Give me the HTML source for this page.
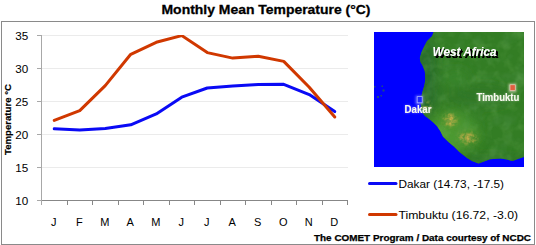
<!DOCTYPE html>
<html><head><meta charset="utf-8">
<style>
html,body{margin:0;padding:0;background:#fff;}
body{width:536px;height:245px;overflow:hidden;position:relative;}
svg{position:absolute;left:0;top:0;}
text{font-family:"Liberation Sans",sans-serif;}
</style></head><body>
<svg width="536" height="245" viewBox="0 0 536 245">
<defs>
  <linearGradient id="land" x1="0" y1="0" x2="0.3" y2="1">
    <stop offset="0" stop-color="#2f7a24"/>
    <stop offset="0.5" stop-color="#3a8a2a"/>
    <stop offset="1" stop-color="#47982f"/>
  </linearGradient>
  <filter id="sh" x="-20%" y="-20%" width="140%" height="160%">
    <feGaussianBlur in="SourceAlpha" stdDeviation="0.5"/>
    <feOffset dx="1.5" dy="1.6" result="o"/>
    <feComponentTransfer in="o" result="o2"><feFuncA type="linear" slope="1.6"/></feComponentTransfer>
    <feMerge><feMergeNode in="o2"/><feMergeNode in="SourceGraphic"/></feMerge>
  </filter>
  <filter id="blur1" x="-100%" y="-100%" width="300%" height="300%"><feGaussianBlur stdDeviation="1"/></filter>
  <filter id="blur2" x="-100%" y="-100%" width="300%" height="300%"><feGaussianBlur stdDeviation="2"/></filter>
  <filter id="speck" x="-50%" y="-50%" width="200%" height="200%">
    <feGaussianBlur in="SourceGraphic" stdDeviation="2.5" result="b"/>
    <feTurbulence type="fractalNoise" baseFrequency="0.3" numOctaves="2" seed="11" result="n"/>
    <feColorMatrix in="n" type="matrix" values="0 0 0 0 0  0 0 0 0 0  0 0 0 0 0  0 0 0 3 -1.1" result="na"/>
    <feGaussianBlur in="na" stdDeviation="0.6" result="nb"/>
    <feComposite in="b" in2="nb" operator="in"/>
  </filter>
  <filter id="halo" x="-20%" y="-50%" width="140%" height="200%">
    <feGaussianBlur in="SourceAlpha" stdDeviation="0.8" result="b"/>
    <feFlood flood-color="#ffffff" flood-opacity="0.35"/>
    <feComposite in2="b" operator="in" result="h"/>
    <feMerge><feMergeNode in="h"/><feMergeNode in="SourceGraphic"/></feMerge>
  </filter>
  <filter id="terrain" x="0" y="0" width="100%" height="100%" filterUnits="objectBoundingBox">
    <feTurbulence type="fractalNoise" baseFrequency="0.08" numOctaves="3" seed="4" result="n"/>
    <feColorMatrix in="n" type="matrix" values="0 0 0 0 0.30  0 0 0 0 0.62  0 0 0 0 0.20  1.6 0 0 0 -0.75" result="c"/>
    <feComposite in="c" in2="SourceGraphic" operator="in"/>
  </filter>
  <filter id="terrain2" x="0" y="0" width="100%" height="100%" filterUnits="objectBoundingBox">
    <feTurbulence type="fractalNoise" baseFrequency="0.07" numOctaves="3" seed="9" result="n"/>
    <feColorMatrix in="n" type="matrix" values="0 0 0 0 0.14  0 0 0 0 0.38  0 0 0 0 0.16  1.6 0 0 0 -0.75" result="c"/>
    <feComposite in="c" in2="SourceGraphic" operator="in"/>
  </filter>
  <filter id="blur6" x="-100%" y="-100%" width="300%" height="300%"><feGaussianBlur stdDeviation="6"/></filter>
</defs>
<!-- title -->
<text x="266" y="14.4" font-size="13.7" font-weight="bold" text-anchor="middle" fill="#000" stroke="#000" stroke-width="0.3" textLength="209" lengthAdjust="spacingAndGlyphs">Monthly Mean Temperature (°C)</text>
<!-- frame -->
<rect x="1.5" y="21.5" width="533" height="223" fill="none" stroke="#8a8a8a" stroke-width="1"/>
<!-- gridlines -->
<g stroke="#ebebeb" stroke-width="1">
  <line x1="42" y1="35.5" x2="348" y2="35.5"/>
  <line x1="42" y1="68.5" x2="348" y2="68.5"/>
  <line x1="42" y1="101.5" x2="348" y2="101.5"/>
  <line x1="42" y1="134.5" x2="348" y2="134.5"/>
  <line x1="42" y1="167.5" x2="348" y2="167.5"/>
</g>
<!-- y axis -->
<g stroke="#a8a8a8" stroke-width="1">
  <line x1="41.5" y1="35" x2="41.5" y2="205"/>
  <line x1="37" y1="35.5" x2="41" y2="35.5"/>
  <line x1="37" y1="68.5" x2="41" y2="68.5"/>
  <line x1="37" y1="101.5" x2="41" y2="101.5"/>
  <line x1="37" y1="134.5" x2="41" y2="134.5"/>
  <line x1="37" y1="167.5" x2="41" y2="167.5"/>
  <line x1="37" y1="200.5" x2="41" y2="200.5"/>
</g>
<!-- x axis -->
<g stroke="#878787" stroke-width="1">
  <line x1="42" y1="200.5" x2="348" y2="200.5"/>
  <line x1="67.5" y1="200" x2="67.5" y2="205"/>
  <line x1="92.5" y1="200" x2="92.5" y2="205"/>
  <line x1="118.5" y1="200" x2="118.5" y2="205"/>
  <line x1="143.5" y1="200" x2="143.5" y2="205"/>
  <line x1="169.5" y1="200" x2="169.5" y2="205"/>
  <line x1="194.5" y1="200" x2="194.5" y2="205"/>
  <line x1="220.5" y1="200" x2="220.5" y2="205"/>
  <line x1="245.5" y1="200" x2="245.5" y2="205"/>
  <line x1="271.5" y1="200" x2="271.5" y2="205"/>
  <line x1="296.5" y1="200" x2="296.5" y2="205"/>
  <line x1="322.5" y1="200" x2="322.5" y2="205"/>
  <line x1="347.5" y1="200" x2="347.5" y2="205"/>
</g>
<!-- y labels -->
<g font-size="11" fill="#000" text-anchor="end">
  <text x="28.2" y="40" textLength="13" lengthAdjust="spacingAndGlyphs">35</text>
  <text x="28.2" y="73" textLength="13" lengthAdjust="spacingAndGlyphs">30</text>
  <text x="28.2" y="106" textLength="13" lengthAdjust="spacingAndGlyphs">25</text>
  <text x="28.2" y="139" textLength="13" lengthAdjust="spacingAndGlyphs">20</text>
  <text x="28.2" y="172" textLength="13" lengthAdjust="spacingAndGlyphs">15</text>
  <text x="28.2" y="205" textLength="13" lengthAdjust="spacingAndGlyphs">10</text>
</g>
<!-- y title -->
<text transform="translate(11.2,119.5) rotate(-90)" font-size="9.8" font-weight="bold" stroke="#000" stroke-width="0.2" text-anchor="middle" fill="#000" textLength="71" lengthAdjust="spacingAndGlyphs">Temperature °C</text>
<!-- x labels -->
<g font-size="11" fill="#000" text-anchor="middle">
  <text x="53.75" y="226">J</text>
  <text x="79.25" y="226">F</text>
  <text x="104.75" y="226">M</text>
  <text x="130.25" y="226">A</text>
  <text x="155.75" y="226">M</text>
  <text x="181.25" y="226">J</text>
  <text x="206.75" y="226">J</text>
  <text x="232.25" y="226">A</text>
  <text x="257.75" y="226">S</text>
  <text x="283.25" y="226">O</text>
  <text x="308.75" y="226">N</text>
  <text x="334.25" y="226">D</text>
</g>
<!-- data lines -->
<clipPath id="plotclip"><rect x="0" y="35" width="360" height="180"/></clipPath>
<g clip-path="url(#plotclip)">
<polyline fill="none" stroke="#0a0af5" stroke-width="3" stroke-linejoin="round" stroke-linecap="round"
  points="54.25,128.8 79.75,129.9 105.25,128.5 130.75,124.8 156.25,113.9 181.75,97.2 207.25,88 232.75,85.9 258.25,84.6 283.75,84.3 309.25,94.6 334.75,111.6"/>
<polyline fill="none" stroke="#d03800" stroke-width="3" stroke-linejoin="round" stroke-linecap="round"
  points="54.25,120.4 79.75,110.6 105.25,85.6 130.75,54.3 156.25,42.3 181.75,35.6 207.25,52.6 232.75,58.1 258.25,56.2 283.75,61.4 309.25,87.2 334.75,117"/>
</g>
<!-- map -->
<g>
  <rect x="374" y="32" width="150" height="135" fill="#0000ff"/>
  <clipPath id="landclip"><path id="landpath" d="M433.5,32 L432,36 L427,41 L424.4,46 L421.6,52 L419.8,58 L420.5,62 L422.6,65.5 L424.8,71 L425.4,79 L424.5,85 L422.6,91.5 L421.5,96 L420.5,99 L420.8,103 L421,107 L421.8,112 L425,116 L428.8,118.8 L433.3,122.4 L436.9,126 L440.4,131.3 L443.1,136.7 L448.5,142.1 L453.9,146.6 L459.3,152 L467,158 L472,161 L478.5,163.5 L484,161.5 L490,159.3 L500.6,158.4 L507,159.5 L512.5,161.1 L518,159 L524,157 L524,32 Z"/></clipPath>
  <g clip-path="url(#landclip)">
    <rect x="374" y="32" width="150" height="135" fill="#337d24"/>
    <g filter="url(#blur6)">
      <ellipse cx="426" cy="80" rx="10" ry="40" fill="#266a2c"/>
      <ellipse cx="436" cy="140" rx="14" ry="16" fill="#2c7028"/>
      <ellipse cx="490" cy="165" rx="40" ry="8" fill="#2c7028"/>
      <ellipse cx="455" cy="78" rx="14" ry="8" fill="#3c8a2c" opacity="0.7"/>
      <ellipse cx="440" cy="120" rx="9" ry="7" fill="#4c9630" opacity="0.8"/>
      <ellipse cx="458" cy="128" rx="20" ry="16" fill="#459230"/>
      <ellipse cx="447" cy="137" rx="22" ry="9" fill="#4e9c32" transform="rotate(40 447 137)"/>
      <ellipse cx="478" cy="96" rx="36" ry="10" fill="#2e7626" opacity="0.8"/>
    </g>
    <rect x="374" y="32" width="150" height="135" filter="url(#terrain)" opacity="0.3"/>
    <rect x="374" y="32" width="150" height="135" filter="url(#terrain2)" opacity="0.3"/>
    <g filter="url(#blur6)" opacity="0.8">
      <ellipse cx="452" cy="121" rx="10" ry="9" fill="#529a2e"/>
      <ellipse cx="468" cy="137" rx="11" ry="8" fill="#529a2e"/>
    </g>
    <g filter="url(#blur2)" opacity="0.55">
      <ellipse cx="450" cy="121" rx="4" ry="4" fill="#b8a850"/>
      <ellipse cx="468" cy="138" rx="5" ry="3" fill="#a8a048"/>
    </g>
    <g filter="url(#speck)">
      <ellipse cx="450" cy="120" rx="6" ry="6" fill="#d0b448"/>
      <ellipse cx="468" cy="138" rx="9" ry="5.5" fill="#c0ac48"/>
      <ellipse cx="426" cy="107" rx="4" ry="6" fill="#98a840"/>
    </g>
  </g>
  <g fill="#2c6a50" opacity="0.7">
    <rect x="374" y="86" width="1.5" height="1.5"/>
    <rect x="381.5" y="85.5" width="1.5" height="1.5"/>
    <rect x="382.5" y="89.5" width="2" height="2"/>
    <rect x="377" y="96" width="2" height="2"/>
    <rect x="380.5" y="95" width="1.5" height="1.5"/>
  </g>
  <!-- markers -->
  <rect x="415.5" y="95.5" width="8" height="9" fill="#b0b8ff" opacity="0.5" filter="url(#blur1)"/>
  <rect x="417.2" y="96.6" width="5" height="6.2" fill="#2028ff" stroke="#a8b0ff" stroke-width="0.8"/>
  <rect x="508.5" y="83.5" width="8" height="9" fill="#f0e8d0" opacity="0.6" filter="url(#blur1)"/>
  <rect x="510" y="84.8" width="5.2" height="5.8" fill="#e06040" stroke="#f0d8c8" stroke-width="0.6"/>
  <!-- labels -->
  <text x="432.6" y="55.8" font-size="13" font-style="italic" font-weight="bold" fill="#fff" filter="url(#sh)" textLength="64" lengthAdjust="spacingAndGlyphs">West Africa</text>
  <g fill="#fafaf0" font-weight="bold" stroke="#fafaf0" stroke-width="0.1" filter="url(#halo)">
    <text x="404.5" y="113" font-size="10.2" textLength="27" lengthAdjust="spacingAndGlyphs">Dakar</text>
    <text x="476.5" y="101.1" font-size="10" textLength="42.8" lengthAdjust="spacingAndGlyphs">Timbuktu</text>
  </g>
</g>
<!-- legend -->
<line x1="369.5" y1="183.5" x2="396" y2="183.5" stroke="#0a0af5" stroke-width="3" stroke-linecap="round"/>
<line x1="369.5" y1="214.5" x2="396" y2="214.5" stroke="#d03800" stroke-width="3" stroke-linecap="round"/>
<text x="398.5" y="187.5" font-size="11.5" fill="#000" textLength="105.5" lengthAdjust="spacingAndGlyphs">Dakar (14.73, -17.5)</text>
<text x="398.5" y="219" font-size="11.5" fill="#000" textLength="119.5" lengthAdjust="spacingAndGlyphs">Timbuktu (16.72, -3.0)</text>
<!-- footer -->
<text x="314" y="240.7" font-size="9.2" font-weight="bold" fill="#000" stroke="#000" stroke-width="0.25" textLength="217" lengthAdjust="spacingAndGlyphs">The COMET Program / Data courtesy of NCDC</text>
</svg>
</body></html>
